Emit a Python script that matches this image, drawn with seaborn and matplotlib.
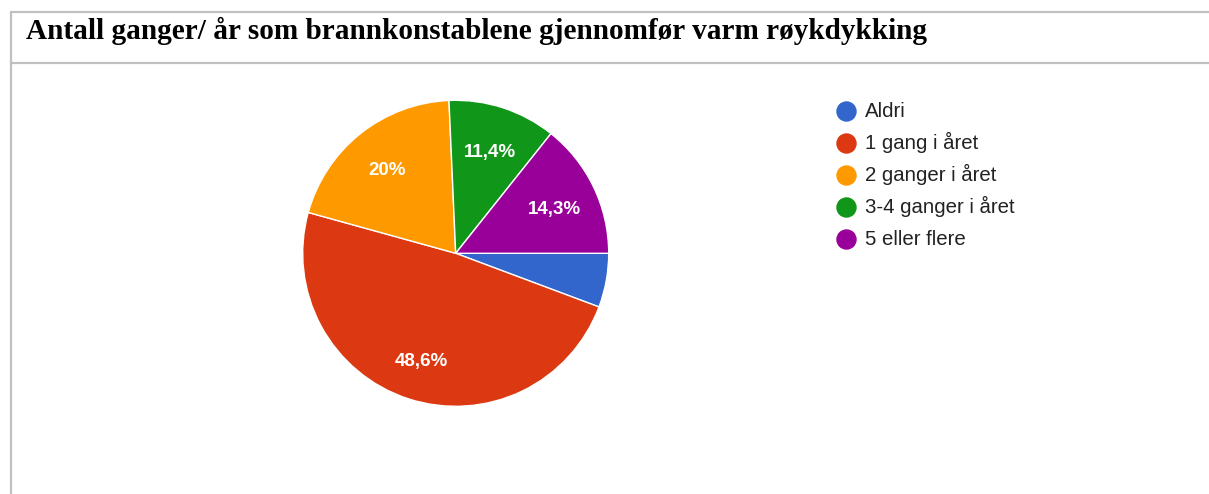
import matplotlib
matplotlib.use("Agg")
import matplotlib.pyplot as plt
import seaborn as sns
from matplotlib.lines import Line2D

title = "Antall ganger/ år som brannkonstablene gjennomfør varm røykdykking"
categories = ["Aldri", "1 gang i året", "2 ganger i året", "3-4 ganger i året", "5 eller flere"]
values = [5.7, 48.6, 20.0, 11.4, 14.3]
colors = ["#3366cc", "#dc3912", "#ff9900", "#109618", "#990099"]

sns.set_theme(style="white")
plt.rcParams["font.family"] = ["Liberation Sans", "DejaVu Sans"]

W, H = 1209, 494
fig = plt.figure(figsize=(W / 100, H / 100), dpi=100)
fig.patch.set_facecolor("white")

# frame lines (table borders)
border = "#c0c0c0"
def px_line(x0, y0, x1, y1):
    fig.add_artist(Line2D([x0 / W, x1 / W], [1 - y0 / H, 1 - y1 / H],
                          transform=fig.transFigure, color=border, lw=1.6))
px_line(11, 12, W, 12)
px_line(11, 63, W, 63)
px_line(11, 12, 11, H)

fig.text(25.5 / W, 1 - 39.3 / H, title, fontsize=21.1, fontweight="bold",
         family=["Liberation Serif", "DejaVu Serif"], color="black",
         va="baseline", ha="left")

# pie axes
cx, cy, r = 455.7, 253.3, 153
ax = fig.add_axes([(cx - r) / W, (H - cy - r) / H, 2 * r / W, 2 * r / H])

def fmt(pct):
    if pct < 10:
        return ""
    s = f"{pct:.1f}".rstrip("0").rstrip(".")
    return s.replace(".", ",") + "%"

wedges, _, autotexts = ax.pie(values, colors=colors, startangle=0, counterclock=False,
                              radius=1, autopct=fmt, pctdistance=0.72,
                              wedgeprops=dict(edgecolor="white", linewidth=1.0),
                              textprops=dict(color="white", fontsize=13.5,
                                             fontweight="bold"))
for t in autotexts:
    x, y = t.get_position()
    t.set_position((x, y - 0.025))
ax.set_xlim(-1, 1)
ax.set_ylim(-1, 1)
ax.set_aspect("equal")
ax.axis("off")

# legend (evenly spaced rows, circle markers)
leg_x, leg_y0, leg_dy = 845.5, 110.7, 32.0
for i, (cat, col) in enumerate(zip(categories, colors)):
    yc = leg_y0 + i * leg_dy
    fig.add_artist(Line2D([leg_x / W], [1 - yc / H], transform=fig.transFigure,
                          marker="o", linestyle="", markersize=13.7,
                          markerfacecolor=col, markeredgecolor=col))
    fig.text(865 / W, 1 - (yc + 6.3) / H, cat, fontsize=14.7, color="#222222",
             va="baseline", ha="left")

fig.savefig("out.png", dpi=100, facecolor="white")
